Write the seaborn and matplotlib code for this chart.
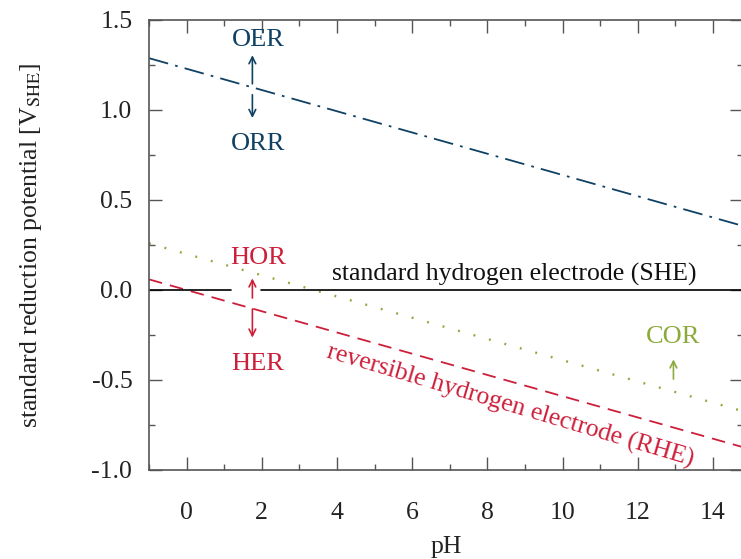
import numpy as np
import matplotlib
matplotlib.use("Agg")
import matplotlib.pyplot as plt
import seaborn as sns
import pandas as pd

# data
ph = [-1.0, 14.8]
oer_e0 = 1.229      # V at pH 0
cor_e0 = 0.20
rhe_e0 = 0.0
slope = -0.059      # V per pH
she_segments = [(-1.0, 1.17), (1.98, 14.8)]

blue = "#0f4164"
red = "#cd1f3a"
olive = "#8caa3c"

sns.set_theme(style="ticks")
plt.rcParams['font.family'] = ['Liberation Serif', 'DejaVu Serif']
plt.rcParams['mathtext.fontset'] = 'stix'

rows = []
for name, e0 in [("OER", oer_e0), ("COR", cor_e0), ("RHE", rhe_e0)]:
    for p in ph:
        rows.append({"pH": p, "E": e0 + slope * p, "line": name})
df = pd.DataFrame(rows)

fig = plt.figure(figsize=(7.41, 5.59), dpi=100)
ax = fig.add_axes([149/741, (559-470)/559, 594/741, 450/559])

sns.lineplot(data=df[df.line == "OER"], x="pH", y="E", ax=ax, color=blue,
             lw=1.3, linestyle=(0, (11, 4, 1.5, 4)))
sns.lineplot(data=df[df.line == "COR"], x="pH", y="E", ax=ax, color=olive,
             lw=1.7, linestyle=(0, (0.8, 6)))
sns.lineplot(data=df[df.line == "RHE"], x="pH", y="E", ax=ax, color=red,
             lw=1.3, linestyle=(0, (7.5, 4.5)))
for a, b in she_segments:
    sns.lineplot(x=[a, b], y=[0, 0], ax=ax, color="black", lw=1.2)

ax.set_xlim(-1, 14.8)
ax.set_ylim(-1.0, 1.5)
ax.set_xticks([0, 2, 4, 6, 8, 10, 12, 14])
ax.set_xticks(np.arange(-1, 15, 1), minor=True)
ax.set_yticks([-1.0, -0.5, 0.0, 0.5, 1.0, 1.5])
ax.set_yticks(np.arange(-1.0, 1.51, 0.25), minor=True)
ax.set_yticklabels(["-1.0", "-0.5", "0.0", "0.5", "1.0", "1.5"])
ax.tick_params(which="both", direction="in", top=True, right=True,
               labelsize=18.5, color="#555555", labelcolor="#222222")
ax.tick_params(axis="x", which="both", pad=23)
ax.tick_params(axis="y", which="both", pad=12)
ax.tick_params(which="major", length=9.5, width=1.0)
ax.tick_params(which="minor", length=4.5, width=1.0)
for s in ax.spines.values():
    s.set_color("#555555")
    s.set_linewidth(1.2)

ax.set_xlabel("pH", fontsize=18.5, color="#222222", labelpad=9)
ax.set_ylabel(r"standard reduction potential [V$_{\mathrm{SHE}}$]", fontsize=18.5,
              color="#222222", labelpad=34)

fs = 19
ax.text(1.9, 1.39, "OER", color=blue, fontsize=fs, ha="center", va="center")
ax.text(1.9, 0.81, "ORR", color=blue, fontsize=fs, ha="center", va="center")
ax.annotate("", xy=(1.75, 1.32), xytext=(1.75, 1.13),
            arrowprops=dict(arrowstyle="->", color=blue, lw=1.2))
ax.annotate("", xy=(1.75, 0.94), xytext=(1.75, 1.10),
            arrowprops=dict(arrowstyle="->", color=blue, lw=1.2))

ax.text(1.9, 0.18, "HOR", color=red, fontsize=fs, ha="center", va="center")
ax.text(1.9, -0.41, "HER", color=red, fontsize=fs, ha="center", va="center")
ax.annotate("", xy=(1.75, 0.08), xytext=(1.75, -0.06),
            arrowprops=dict(arrowstyle="->", color=red, lw=1.2))
ax.annotate("", xy=(1.75, -0.28), xytext=(1.75, -0.09),
            arrowprops=dict(arrowstyle="->", color=red, lw=1.2))

ax.text(12.95, -0.26, "COR", color=olive, fontsize=fs, ha="center", va="center")
ax.annotate("", xy=(12.95, -0.37), xytext=(12.95, -0.51),
            arrowprops=dict(arrowstyle="->", color=olive, lw=1.2))

ax.text(3.87, 0.02, "standard hydrogen electrode (SHE)", color="#111111",
        fontsize=18.5, ha="left", va="bottom")
ax.text(8.6, -0.645, "reversible hydrogen electrode (RHE)", color=red,
        fontsize=18.5, ha="center", va="center", rotation=-16.5,
        rotation_mode="anchor")

fig.savefig("out.png", dpi=100)
